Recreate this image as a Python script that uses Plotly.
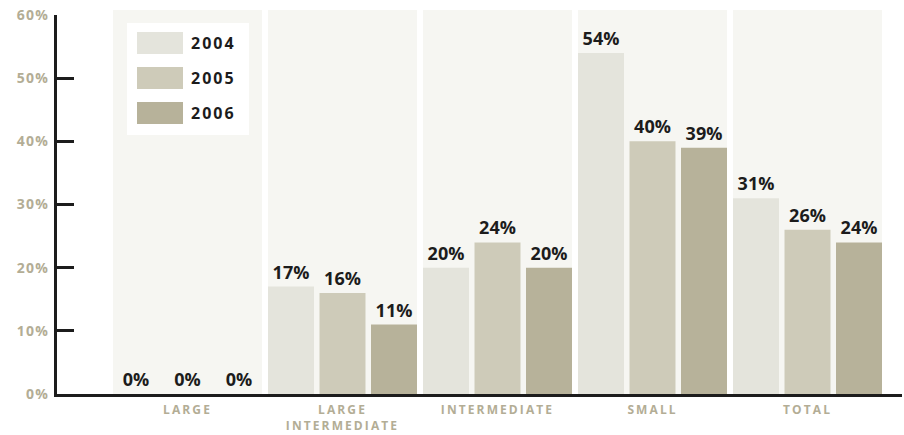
import plotly.graph_objects as go

categories = ["LARGE", "LARGE INTERMEDIATE", "INTERMEDIATE", "SMALL", "TOTAL"]
category_labels = ["LARGE", "LARGE<br>INTERMEDIATE", "INTERMEDIATE", "SMALL", "TOTAL"]
years = ["2004", "2005", "2006"]
v2004 = [0, 17, 20, 54, 31]
v2005 = [0, 16, 24, 40, 26]
v2006 = [0, 11, 20, 39, 24]
y_tick_vals = [0, 10, 20, 30, 40, 50, 60]
y_tick_text = ["0%", "10%", "20%", "30%", "40%", "50%", "60%"]

series = [v2004, v2005, v2006]
colors = ["#e4e4dc", "#cecbb9", "#b7b29a"]
panel_color = "#f6f6f2"
dark = "#1c1c1c"
beige = "#b3ad95"

W, H = 904, 435
L, R, T, B = 57, 2, 15, 41
pw, ph = W - L - R, H - T - B

def px_x(x):
    return (x - L) / pw

def px_y(y):
    return (H - B - y) / ph

unit = 155.0
half = 74.5 / unit
bw = 46 / unit
offsets = [-74.5 / unit, -23 / unit, 28.5 / unit]

def sp(t, ls):
    return f'<span style="letter-spacing:{ls}px">{t}</span>'

fig = go.Figure()
for yr, vals, col, off in zip(years, series, colors, offsets):
    fig.add_trace(go.Bar(
        x=categories, y=vals, name=yr, marker=dict(color=col, line=dict(width=0)),
        width=bw, offset=off,
        text=[f"{v}%" for v in vals], textposition="outside",
        textfont=dict(family="Open Sans", size=18, color=dark, weight="bold"),
        cliponaxis=False, showlegend=False,
    ))

shapes = []
for i in range(len(categories)):
    shapes.append(dict(type="rect", xref="x", yref="paper", x0=i - half, x1=i + half,
                       y0=0, y1=px_y(10), fillcolor=panel_color, line=dict(width=0), layer="below"))

# legend box
shapes.append(dict(type="rect", xref="paper", yref="paper", x0=px_x(127), x1=px_x(249),
                   y0=px_y(135), y1=px_y(23), fillcolor="white", line=dict(width=0), layer="above"))
annotations = []
for k, (yr, col) in enumerate(zip(years, colors)):
    top = 32 + 35 * k
    shapes.append(dict(type="rect", xref="paper", yref="paper", x0=px_x(137), x1=px_x(183),
                       y0=px_y(top + 22), y1=px_y(top), fillcolor=col, line=dict(width=0), layer="above"))
    annotations.append(dict(xref="paper", yref="paper", x=px_x(189), y=px_y(top + 11),
                            text=sp(yr, 2), showarrow=False, xanchor="left", yanchor="middle",
                            font=dict(family="Open Sans", size=16, color=dark, weight="bold")))

fig.update_layout(
    width=W, height=H, margin=dict(l=L, r=R, t=T, b=B, autoexpand=False),
    paper_bgcolor="white", plot_bgcolor="white",
    barmode="overlay", shapes=shapes, annotations=annotations, showlegend=False,
    xaxis=dict(type="category", range=[(L - 187.5) / unit, (W - R - 187.5) / unit],
               tickvals=categories, ticktext=[sp(t, 2.1) for t in category_labels],
               showline=True, linewidth=3, linecolor=dark, ticks="", showgrid=False,
               ticklabelstandoff=3, automargin=False,
               tickfont=dict(family="Open Sans", size=12, color=beige, weight="bold")),
    yaxis=dict(range=[0, 60], tickvals=y_tick_vals, ticktext=[sp(t, 1.3) for t in y_tick_text],
               showline=True, linewidth=3, linecolor=dark, ticks="inside", ticklen=17,
               tickwidth=3, tickcolor=dark, showgrid=False, zeroline=False,
               ticklabelstandoff=2, automargin=False,
               tickfont=dict(family="Open Sans", size=14, color=beige, weight="bold")),
)

fig.write_html("out.html")
